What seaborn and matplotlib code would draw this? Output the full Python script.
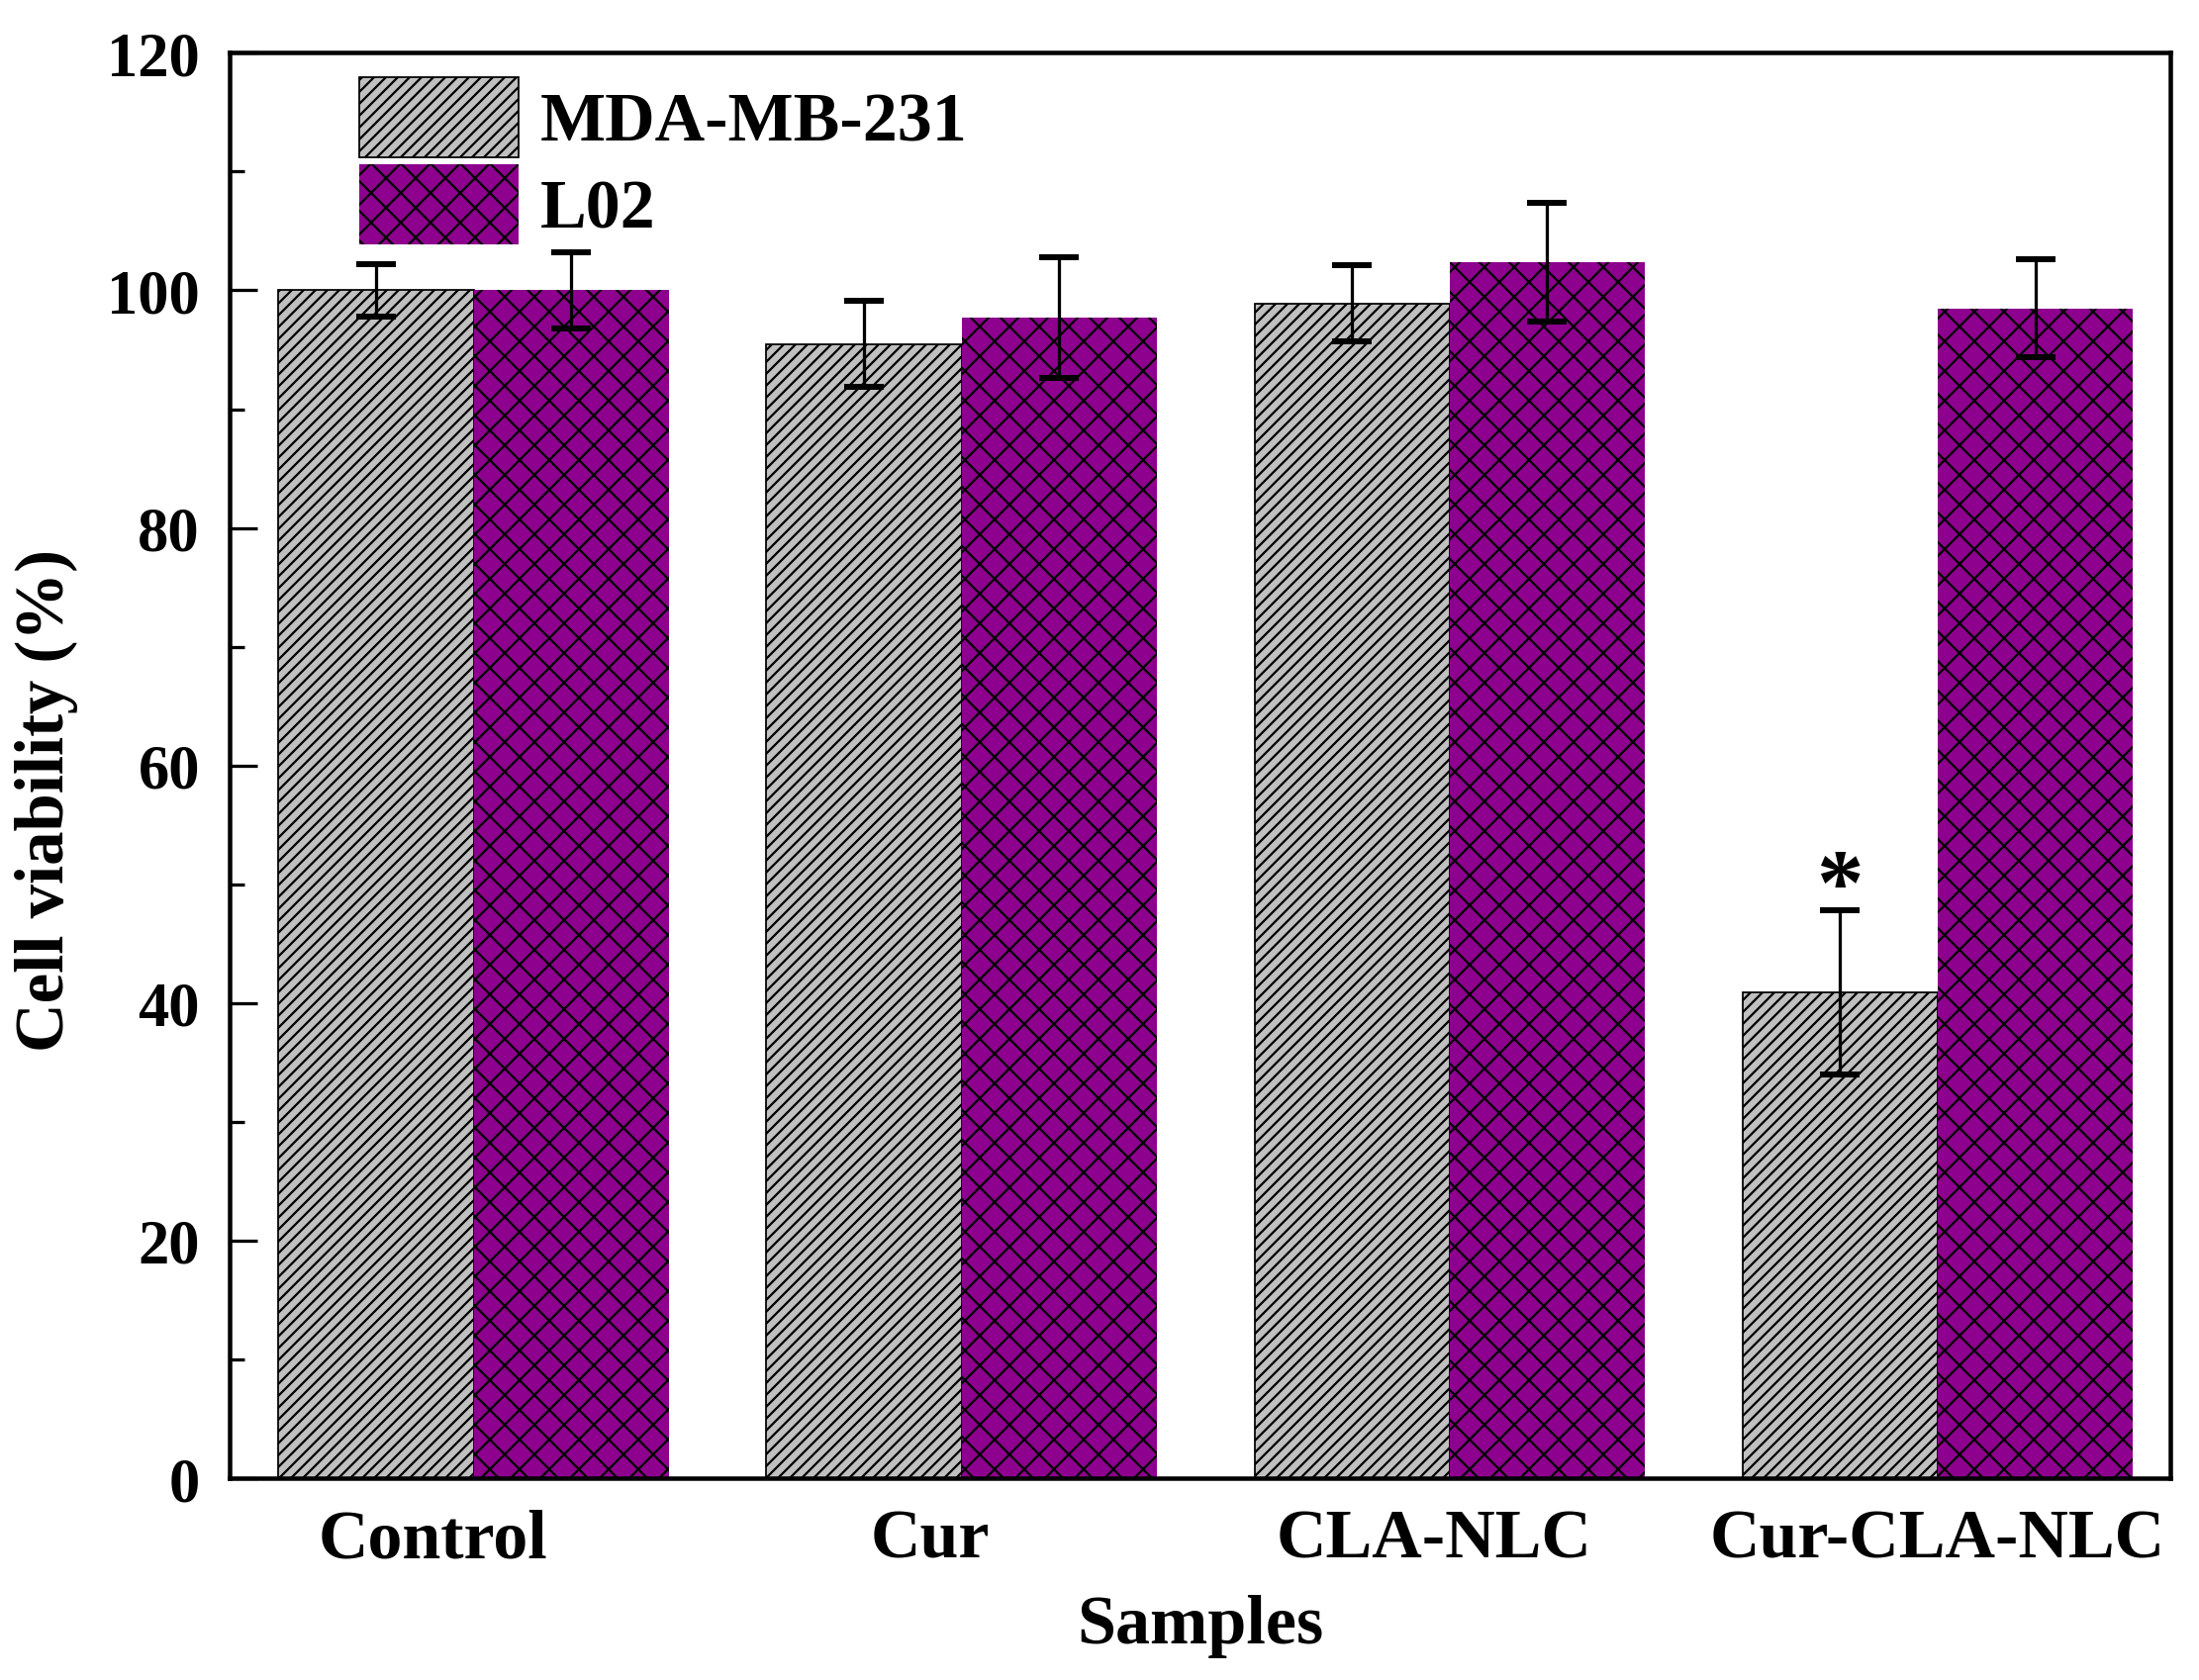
import matplotlib
matplotlib.use("Agg")
import matplotlib.pyplot as plt
import seaborn as sns
import pandas as pd
from matplotlib.ticker import MultipleLocator

samples = ["Control", "Cur", "CLA-NLC", "Cur-CLA-NLC"]
cell_lines = ["MDA-MB-231", "L02"]
mda_mean = [100.0, 95.5, 98.9, 40.9]
mda_sd = [2.2, 3.6, 3.2, 6.9]
l02_mean = [100.0, 97.7, 102.4, 98.5]
l02_sd = [3.2, 5.1, 5.0, 4.1]

df = pd.DataFrame({
    "Samples": samples * 2,
    "Cell line": [cell_lines[0]] * 4 + [cell_lines[1]] * 4,
    "Viability": mda_mean + l02_mean,
})

sns.set_style("ticks")
plt.rcParams["font.family"] = ["Liberation Serif", "DejaVu Serif"]
plt.rcParams["font.weight"] = "bold"
plt.rcParams["hatch.linewidth"] = 0.9
for k in ["text.color", "axes.labelcolor", "xtick.color", "ytick.color"]:
    plt.rcParams[k] = "black"

DPI = 180
fig, ax = plt.subplots(figsize=(2222 / DPI, 1699 / DPI), dpi=DPI)
fig.subplots_adjust(left=0.1044, right=0.987, bottom=0.120, top=0.968)

sns.barplot(data=df, x="Samples", y="Viability", hue="Cell line",
            order=samples, hue_order=cell_lines, errorbar=None,
            palette=["#c0c0c0", "#8e008e"], saturation=1, width=0.8,
            legend=False, ax=ax)

styles = [("/////", "black", 0.7), ("xx", "black", 0.0)]
sds = [mda_sd, l02_sd]
means = [mda_mean, l02_mean]
for cont, (hatch, ec, lw), sd, mean in zip(ax.containers, styles, sds, means):
    xs = []
    for bar in cont:
        bar.set_hatch(hatch)
        bar.set_edgecolor(ec)
        bar.set_linewidth(lw)
        xs.append(bar.get_x() + bar.get_width() / 2)
    ax.errorbar(xs, mean, yerr=sd, fmt="none", ecolor="black",
                elinewidth=1.3, capsize=8, capthick=2.4, zorder=5)

# significance marker
star_x = ax.containers[0][3].get_x() + ax.containers[0][3].get_width() / 2
ax.text(star_x, 47.6, "*", ha="center", va="baseline",
        fontsize=38, fontweight="bold")

ax.set_ylim(0, 120)
ax.set_xlim(-0.5, 3.477)
ax.yaxis.set_major_locator(MultipleLocator(20))
ax.yaxis.set_minor_locator(MultipleLocator(10))
ax.tick_params(axis="y", which="major", direction="in", length=11, width=1.3,
               labelsize=25, pad=12)
ax.tick_params(axis="y", which="minor", direction="in", length=6, width=1.3)
# category labels in the original sit slightly left of the group centres
label_shift = [-0.084, -0.064, -0.032, 0.0]
ax.set_xticks([i + s for i, s in enumerate(label_shift)], samples)
ax.tick_params(axis="x", length=0, labelsize=28, pad=12)
for lab in ax.get_xticklabels() + ax.get_yticklabels():
    lab.set_fontweight("bold")

for sp in ax.spines.values():
    sp.set_linewidth(1.8)
    sp.set_color("black")

ax.set_xlabel("Samples", fontsize=28, fontweight="bold", labelpad=9)
ax.set_ylabel("Cell viability (%)", fontsize=27.5, fontweight="bold")
ax.yaxis.set_label_coords(-0.078, 0.476)

leg = ax.legend(handles=list(ax.containers), labels=cell_lines,
                loc="upper left", bbox_to_anchor=(0.067, 0.983), frameon=False,
                handlelength=2.3, handleheight=1.4, labelspacing=0.1,
                handletextpad=0.3, borderaxespad=0, borderpad=0,
                prop={"weight": "bold", "size": 28})
leg.set_zorder(10)

fig.savefig("out.png", dpi=DPI)
